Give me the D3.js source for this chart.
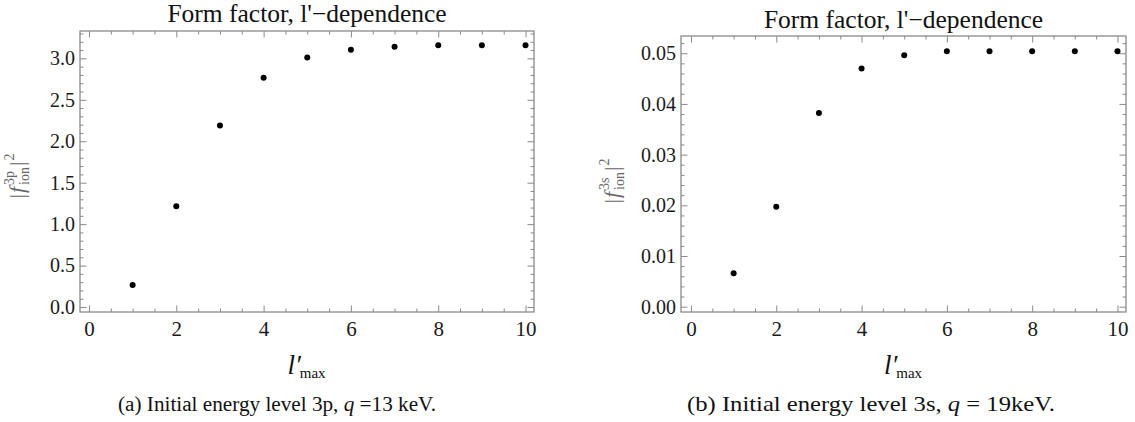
<!DOCTYPE html>
<html>
<head>
<meta charset="utf-8">
<script src="https://cdn.jsdelivr.net/npm/d3@7"></script>
<style>
  body { margin: 0; background: #fff; }
  svg { display: block; }
</style>
</head>
<body>
<script>
const W = 1135;
const H = 422;
const serif = "'Liberation Serif', 'Times New Roman', serif";

// values
const lmax = [1, 2, 3, 4, 5, 6, 7, 8, 9, 10];
const f3p = [0.265, 1.215, 2.19, 2.766, 3.01, 3.104, 3.14, 3.157, 3.157, 3.157];
const f3s = [0.0066, 0.0197, 0.0382, 0.0470, 0.0496, 0.0504, 0.0504, 0.0504, 0.0504, 0.0504];

const xTicks = [0, 2, 4, 6, 8, 10];
const yTicks3p = [0, 0.5, 1, 1.5, 2, 2.5, 3];
const yTicks3s = [0, 0.01, 0.02, 0.03, 0.04, 0.05];

const titleText = "Form factor, l'\u2212dependence";
// caption pieces: [before q, after q]
const captionA = ["(a) Initial energy level 3p, ", " =13 keV."];
const captionB = ["(b) Initial energy level 3s, ", " = 19keV."];

const svg = d3.select("body")
    .append("svg")
    .attr("width", W)
    .attr("height", H)
    ;

function drawPanel(p) {
    const g = svg.append("g");
    const x = d3.scaleLinear().domain(p.xDomain).range([p.left, p.right]);
    const y = d3.scaleLinear().domain(p.yDomain).range([p.bottom, p.top]);

    const xMinor = d3.range(0, 10.01, 0.5).filter(v => v % 2 !== 0);
    const yMinor = d3.range(0, p.yDomain[1], p.yMinorStep)
        .filter(v => !p.yTicks.some(t => Math.abs(t - v) < p.yMinorStep / 10));

    const frameCol = "#8a8a8a";

    // minor ticks
    const minor = [
        [d3.axisBottom(x).tickValues(xMinor), "translate(0," + p.bottom + ")"],
        [d3.axisTop(x).tickValues(xMinor), "translate(0," + p.top + ")"],
        [d3.axisLeft(y).tickValues(yMinor), "translate(" + p.left + ",0)"],
        [d3.axisRight(y).tickValues(yMinor), "translate(" + p.right + ",0)"]
    ];
    minor.forEach(([ax, tr]) => {
        g.append("g").attr("transform", tr)
            .call(ax.tickSizeInner(-3.5).tickSizeOuter(0).tickFormat(""))
            .call(s => s.select(".domain").remove())
            .call(s => s.selectAll("line").attr("stroke", frameCol));
    });

    // major ticks, with labels on bottom and left
    g.append("g").attr("transform", "translate(0," + p.bottom + ")")
        .call(d3.axisBottom(x).tickValues(xTicks).tickSizeInner(-6.5).tickSizeOuter(0).tickPadding(9))
        .call(s => s.select(".domain").remove())
        .call(s => s.selectAll("line").attr("stroke", frameCol))
        .call(s => s.selectAll("text").attr("font-size", 21).attr("font-family", serif).attr("fill", "#1a1a1a"));
    g.append("g").attr("transform", "translate(0," + p.top + ")")
        .call(d3.axisTop(x).tickValues(xTicks).tickSizeInner(-6.5).tickSizeOuter(0).tickFormat(""))
        .call(s => s.select(".domain").remove())
        .call(s => s.selectAll("line").attr("stroke", frameCol));
    g.append("g").attr("transform", "translate(" + p.left + ",0)")
        .call(d3.axisLeft(y).tickValues(p.yTicks).tickSizeInner(-6.5).tickSizeOuter(0)
            .tickPadding(5).tickFormat(d3.format(p.yFormat)))
        .call(s => s.select(".domain").remove())
        .call(s => s.selectAll("line").attr("stroke", frameCol))
        .call(s => s.selectAll("text").attr("font-size", 20).attr("font-family", serif).attr("fill", "#1a1a1a"));
    g.append("g").attr("transform", "translate(" + p.right + ",0)")
        .call(d3.axisRight(y).tickValues(p.yTicks).tickSizeInner(-6.5).tickSizeOuter(0).tickFormat(""))
        .call(s => s.select(".domain").remove())
        .call(s => s.selectAll("line").attr("stroke", frameCol));

    // frame
    g.append("rect")
        .attr("x", p.left).attr("y", p.top)
        .attr("width", p.right - p.left).attr("height", p.bottom - p.top)
        .attr("fill", "none").attr("stroke", frameCol).attr("stroke-width", 1.3);

    // points
    g.selectAll("circle.pt")
        .data(lmax.map((l, i) => [l, p.values[i]]))
        .join("circle")
        .attr("class", "pt")
        .attr("cx", d => x(d[0]))
        .attr("cy", d => y(d[1]))
        .attr("r", 3)
        .attr("fill", "#000");

    // title
    g.append("text")
        .attr("x", (p.left + p.right) / 2)
        .attr("y", p.titleY)
        .attr("text-anchor", "middle")
        .attr("font-family", serif)
        .attr("font-size", 25.5)
        .attr("fill", "#111")
        .text(titleText);

    // y label |f^{3x}_{ion}|^2, rotated
    const yl = g.append("g")
        .attr("transform", "translate(" + p.yLabelX + "," + p.yLabelY + ") rotate(-90)")
        .attr("font-family", serif)
        .attr("fill", "#666");
    const part = (txt, size, dx, dy, italic) => {
        const t = yl.append("text").attr("x", dx).attr("y", dy)
            .attr("font-size", size).text(txt);
        if (italic) t.attr("font-style", "italic");
        return t.node().getComputedTextLength();
    };
    let cx = 0;
    cx += part("|", 22, cx, 0) + 1;
    cx += part("f", 22, cx, 0, true) + 2;
    const wSup = part(p.supLabel, 14, cx, -10);
    const wSub = part("ion", 14, cx, 5);
    cx += Math.max(wSup, wSub) + 1;
    cx += part("|", 22, cx, 0) + 1;
    cx += part("2", 14, cx, -10);
    yl.selectAll("text").attr("transform", "translate(" + (-cx / 2) + ",0)");

    // x label l'_max
    const xl = g.append("g")
        .attr("transform", "translate(" + ((p.left + p.right) / 2) + "," + p.xLabelY + ")")
        .attr("font-family", serif)
        .attr("fill", "#111");
    const l1 = xl.append("text").attr("font-size", 27).attr("font-style", "italic").text("l\u2032");
    const wl = l1.node().getComputedTextLength();
    const m1 = xl.append("text").attr("x", wl - 1).attr("y", 4).attr("font-size", 15).text("max");
    const wm = m1.node().getComputedTextLength();
    xl.selectAll("text").attr("transform", "translate(" + (-(wl + wm) / 2) + ",0)");

    // caption
    const cap = svg.append("text")
        .attr("x", p.captionX)
        .attr("y", 411)
        .attr("font-family", serif)
        .attr("font-size", p.captionSize)
        .attr("textLength", p.captionW)
        .attr("lengthAdjust", "spacingAndGlyphs")
        .attr("fill", "#111");
    cap.append("tspan").text(p.caption[0]);
    cap.append("tspan").attr("font-style", "italic").text("q");
    cap.append("tspan").text(p.caption[1]);
}

drawPanel({
    left: 80, right: 534, top: 31, bottom: 312,
    xDomain: [-0.206, 10.194],
    yDomain: [-0.06, 3.33],
    yTicks: yTicks3p, yMinorStep: 0.1, yFormat: ".1f",
    values: f3p,
    titleY: 22,
    supLabel: "3p", yLabelX: 24, yLabelY: 176,
    xLabelY: 374,
    caption: captionA, captionX: 118, captionW: 318, captionSize: 20
});

drawPanel({
    left: 681, right: 1126, top: 36, bottom: 312,
    xDomain: [-0.234, 10.2],
    yDomain: [-0.00105, 0.0534],
    yTicks: yTicks3s, yMinorStep: 0.002, yFormat: ".2f",
    values: f3s,
    titleY: 28,
    supLabel: "3s", yLabelX: 619, yLabelY: 181,
    xLabelY: 374,
    caption: captionB, captionX: 687, captionW: 368, captionSize: 21.5
});
</script>
</body>
</html>
